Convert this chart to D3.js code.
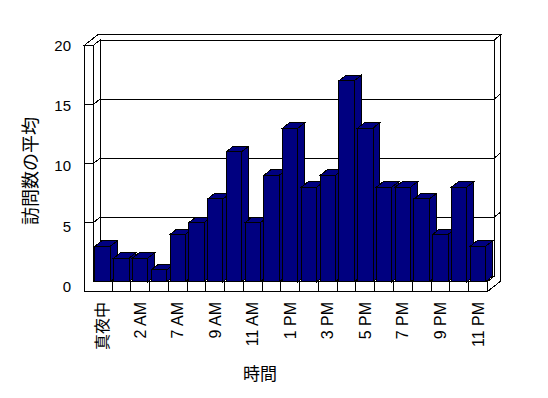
<!DOCTYPE html>
<html>
<head>
<meta charset="utf-8">
<script src="https://cdn.jsdelivr.net/npm/d3@7"></script>
<style>
  body { margin: 0; background: #fff; }
  svg { display: block; }
  text { fill: #000; }
</style>
</head>
<body>
<svg id="chart" width="548" height="398"></svg>
<script>
// ── Data ───────────────────────────────────────────────────
const categories = ['真夜中', '1 AM', '2 AM', '6 AM', '7 AM', '8 AM', '9 AM', '10 AM', '11 AM', '正午',
  '1 PM', '2 PM', '3 PM', '4 PM', '5 PM', '6 PM', '7 PM', '8 PM', '9 PM', '10 PM', '11 PM'];
const visits = [3, 2, 2, 1, 4, 5, 7, 11, 5, 9, 13, 8, 9, 17, 13, 8, 8, 7, 4, 8, 3];
const yTicks = [0, 5, 10, 15, 20];
const yTitle = '訪問数の平均';
const xTitle = '時間';

// ── Layout ─────────────────────────────────────────────────
const left = 93.3, right = 487.3;   // inner plot edges on the front plane
const wallT = 9, floorT = 10;       // wall / floor thickness
const kx = 6.8, ky = 5.4;           // oblique offset per depth unit
const latin = 'Arial, "Liberation Sans", sans-serif';
const cjk = '"Noto Sans CJK JP", sans-serif';

const svg = d3.select('#chart');
const x = d3.scaleBand().domain(categories).range([left, right])
  .paddingInner(0.18).paddingOuter(0.09);
const y = d3.scaleLinear().domain([0, 20]).range([281.7, 45.4]);
const yLab = d3.scaleLinear().domain([0, 20]).range([287, 45.3]);

const y0 = y(0), yTop = y(20), yBot = y0 + floorT;
const p = (X, Y, Z) => [X + Z * kx, Y - Z * ky];
const poly = pts => 'M' + pts.map(d => d.join(',')).join('L') + 'Z';

const box = svg.append('g')
  .attr('fill', '#fff').attr('stroke', '#000').attr('stroke-width', 1)
  .attr('shape-rendering', 'crispEdges');

// back wall front face
box.append('path').attr('d', poly([p(left, yTop, 1), p(right, yTop, 1), p(right, y0, 1), p(left, y0, 1)]));
// top of side wall + back wall
box.append('path').attr('d', poly([p(left - wallT, yTop, 0), p(left, yTop, 0), p(left, yTop, 1),
  p(right, yTop, 1), p(right, yTop, 2), p(left - wallT, yTop, 2)]));
// right end of back wall + floor
box.append('path').attr('d', poly([p(right, yTop, 1), p(right, yTop, 2), p(right, yBot, 2),
  p(right, yBot, 0), p(right, y0, 0), p(right, y0, 1)]));
// side wall inner face
box.append('path').attr('d', poly([p(left, yTop, 0), p(left, yTop, 1), p(left, y0, 1), p(left, y0, 0)]));
// floor top
box.append('path').attr('d', poly([p(left, y0, 0), p(right, y0, 0), p(right, y0, 1), p(left, y0, 1)]));
// front faces of side wall and floor
box.append('path').attr('d', poly([p(left - wallT, yTop, 0), p(left, yTop, 0), p(left, y0, 0),
  p(right, y0, 0), p(right, yBot, 0), p(left - wallT, yBot, 0)]));

// gridlines
const grid = svg.append('g').attr('fill', 'none').attr('stroke', '#000')
  .attr('shape-rendering', 'crispEdges');
yTicks.filter(v => v > 0 && v < 20).forEach(v => {
  const Y = y(v);
  grid.append('path').attr('d', d3.line()([p(left - wallT, Y, 0), p(left, Y, 0), p(left, Y, 1),
    p(right, Y, 1), p(right, Y, 2)]));
});

// floor front dividers
grid.selectAll('.div').data(categories.slice(1)).enter().append('line')
  .attr('x1', d => x(d) - x.step() * x.paddingInner() / 2)
  .attr('x2', d => x(d) - x.step() * x.paddingInner() / 2)
  .attr('y1', y0).attr('y2', yBot);

// ── Bars ───────────────────────────────────────────────────
const bars = svg.append('g').attr('fill', '#000080').attr('stroke', '#000')
  .attr('shape-rendering', 'crispEdges');
categories.forEach((c, i) => {
  const X0 = x(c), X1 = X0 + x.bandwidth(), Yv = y(visits[i]);
  const g = bars.append('g');
  g.append('path').attr('d', poly([p(X1, Yv, 0), p(X1, Yv, 1), p(X1, y0, 1), p(X1, y0, 0)]));
  g.append('path').attr('d', poly([p(X0, Yv, 0), p(X0, Yv, 1), p(X1, Yv, 1), p(X1, Yv, 0)]));
  g.append('path').attr('d', poly([p(X0, Yv, 0), p(X1, Yv, 0), p(X1, y0, 0), p(X0, y0, 0)]));
});

// ── Labels ─────────────────────────────────────────────────
svg.append('g').selectAll('text').data(yTicks).enter().append('text')
  .attr('x', 71).attr('y', d => yLab(d)).attr('dy', '0.35em')
  .attr('text-anchor', 'end').attr('font-family', latin).attr('font-size', 15)
  .text(d => d);

svg.append('g').selectAll('text').data(categories.filter((d, i) => i % 2 === 0)).enter().append('text')
  .attr('transform', d => `translate(${x(d) + x.bandwidth() / 2},302) rotate(-90)`)
  .attr('dy', '0.35em').attr('text-anchor', 'end')
  .attr('font-family', d => /[A-Z]/.test(d) ? latin : cjk)
  .attr('font-size', 16)
  .text(d => d);

svg.append('text')
  .attr('transform', 'translate(31,171) rotate(-90)')
  .attr('dy', '0.35em').attr('text-anchor', 'middle')
  .attr('font-family', cjk).attr('font-size', 18)
  .text(yTitle);

svg.append('text')
  .attr('x', 260).attr('y', 374).attr('dy', '0.35em').attr('text-anchor', 'middle')
  .attr('font-family', cjk).attr('font-size', 17)
  .text(xTitle);
</script>
</body>
</html>
